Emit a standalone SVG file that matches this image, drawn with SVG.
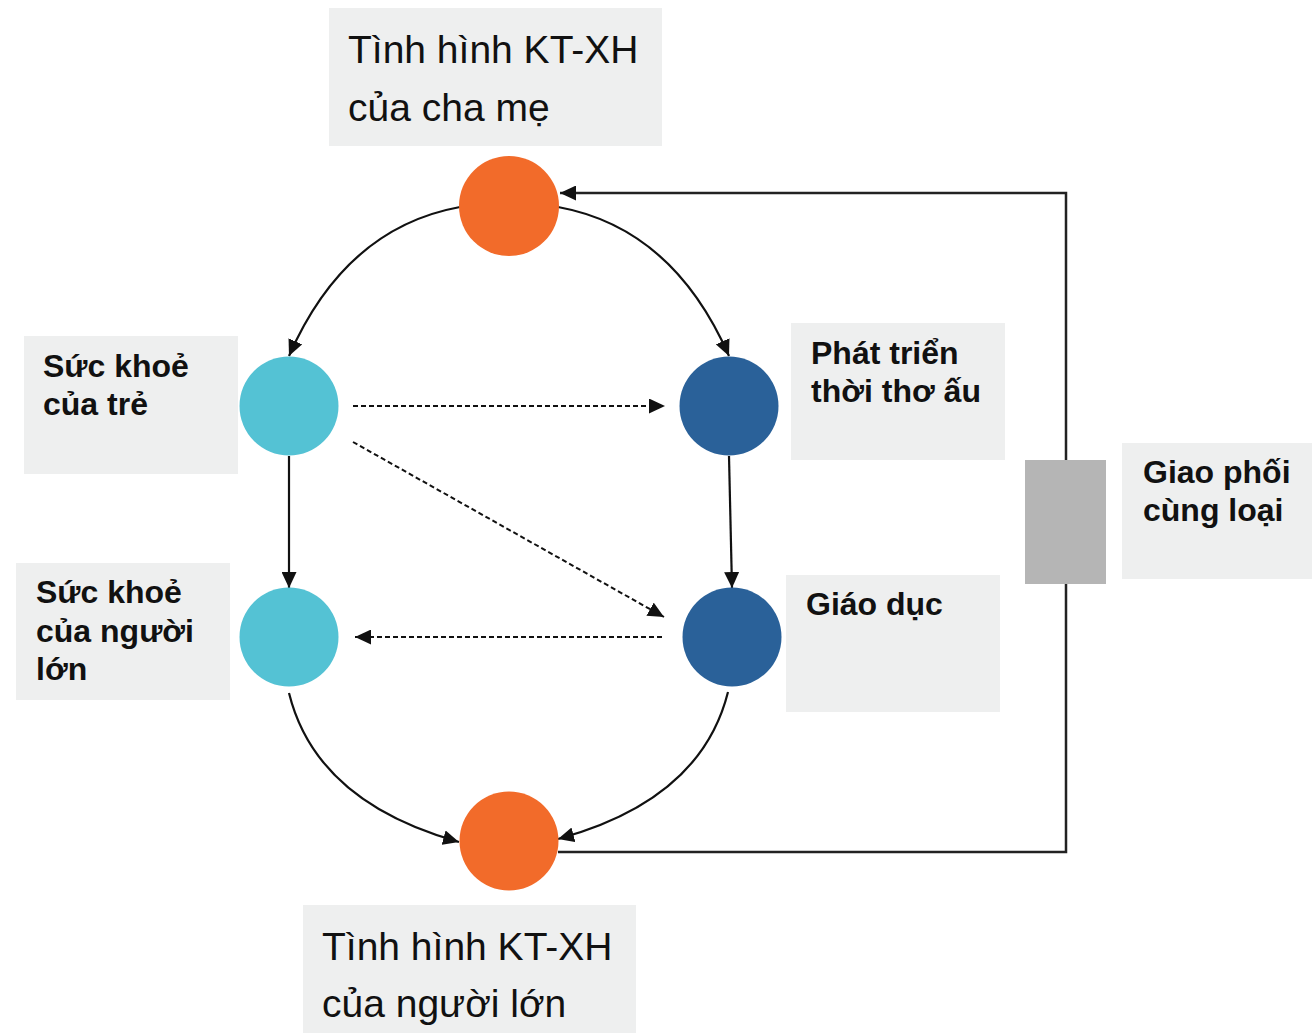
<svg xmlns="http://www.w3.org/2000/svg" width="1312" height="1033" viewBox="0 0 1312 1033">
<style>
.box{fill:#EEEFEF}
.big{font-family:"Liberation Sans",Arial,sans-serif;font-size:39px;fill:#111}
.lbl{font-family:"Liberation Sans",Arial,sans-serif;font-size:32px;font-weight:bold;fill:#111}
.orange{fill:#F26B2A}
.cyan{fill:#54C2D4}
.blue{fill:#2A6199}
.con{fill:none;stroke:#111;stroke-width:2.2}
.dash{fill:none;stroke:#111;stroke-width:2;stroke-dasharray:5 3}
</style>
<defs>
<marker id="ah" markerUnits="userSpaceOnUse" markerWidth="17" markerHeight="15" refX="16" refY="7.5" orient="auto">
<path d="M0,0 L16,7.5 L0,15 z" fill="#111"/>
</marker>
</defs>
<rect width="1312" height="1033" fill="#fff"/>
<g id="connectors">
<path class="con" d="M460,207 Q345,228 289,356" marker-end="url(#ah)"/>
<path class="con" d="M558,207 Q673,228 729,356" marker-end="url(#ah)"/>
<line class="con" x1="289" y1="456" x2="289" y2="588" marker-end="url(#ah)"/>
<line class="con" x1="729" y1="456" x2="732" y2="588" marker-end="url(#ah)"/>
<line class="dash" x1="353" y1="406" x2="665" y2="406" marker-end="url(#ah)"/>
<line class="dash" x1="353" y1="442" x2="664" y2="617" marker-end="url(#ah)"/>
<line class="dash" x1="662" y1="637" x2="355" y2="637" marker-end="url(#ah)"/>
<path class="con" d="M289,693 Q316,802 459,842" marker-end="url(#ah)"/>
<path class="con" d="M728,692 Q701,800 558,839" marker-end="url(#ah)"/>
<path class="con" d="M558,852 L1066,852 L1066,193 L560,193" marker-end="url(#ah)" style="stroke:#222;stroke-width:2.5"/>
</g>
<g id="mating">
<rect x="1025" y="460" width="81" height="124" fill="#B5B5B5"/>
</g>
<g id="n-parents">
<rect class="box" x="329" y="8" width="333" height="138"/>
<text class="big" x="348" y="63">Tình hình KT-XH</text>
<text class="big" x="348" y="121">của cha mẹ</text>
<circle class="orange" cx="509" cy="206" r="50"/>
</g>
<g id="n-child-health">
<rect class="box" x="24" y="336" width="214" height="138"/>
<text class="lbl" x="43" y="377">Sức khoẻ</text>
<text class="lbl" x="43" y="415">của trẻ</text>
<circle class="cyan" cx="289" cy="406" r="49.5"/>
</g>
<g id="n-adult-health">
<rect class="box" x="16" y="563" width="214" height="137"/>
<text class="lbl" x="36" y="603">Sức khoẻ</text>
<text class="lbl" x="36" y="642">của người</text>
<text class="lbl" x="36" y="680">lớn</text>
<circle class="cyan" cx="289" cy="637" r="49.5"/>
</g>
<g id="n-ecd">
<rect class="box" x="791" y="323" width="214" height="137"/>
<text class="lbl" x="811" y="364">Phát triển</text>
<text class="lbl" x="811" y="402">thời thơ ấu</text>
<circle class="blue" cx="729" cy="406" r="49.5"/>
</g>
<g id="n-education">
<rect class="box" x="786" y="575" width="214" height="137"/>
<text class="lbl" x="806" y="615">Giáo dục</text>
<circle class="blue" cx="732" cy="637" r="49.5"/>
</g>
<g id="n-assortative">
<rect class="box" x="1122" y="443" width="190" height="136"/>
<text class="lbl" x="1143" y="483">Giao phối</text>
<text class="lbl" x="1143" y="521">cùng loại</text>
</g>
<g id="n-adults">
<rect class="box" x="303" y="905" width="333" height="128"/>
<text class="big" x="322" y="960">Tình hình KT-XH</text>
<text class="big" x="322" y="1017">của người lớn</text>
<circle class="orange" cx="509" cy="841" r="49.5"/>
</g>
</svg>
